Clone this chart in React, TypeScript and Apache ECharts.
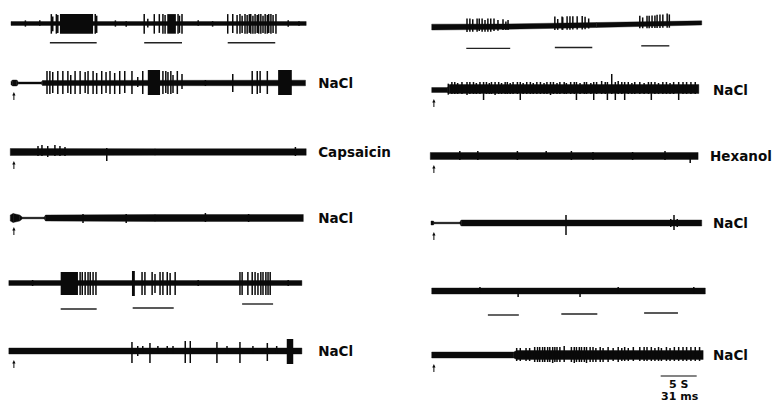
import React, { useEffect, useRef } from "react";
import * as echarts from "echarts";

// Time axis in seconds (scale bar: 5 s). Amplitude axis in arbitrary units.
const LEFT_MAX_S = 41;
const RIGHT_MAX_S = 37.5;
const ARROW_T = 0.4;

// ---------- Left column ----------
// base: [t, centre offset, half-thickness]
const L1_BASE = [[0, 0, 2.5], [41, 0, 2.5]];
// spikes: [t, up, down]
const L1_SPIKES = [
  [2.0, 4, 4], [4.0, 4, 3], [5.6, 12, 13], [5.8, 9, 10], [6.3, 12, 13], [6.5, 11, 12], [11.7, 12, 13], [11.9, 10, 12],
  [14.5, 4, 4], [16.0, 3, 4],
  [18.5, 12, 13], [19.0, 6, 5], [19.9, 12, 13], [20.6, 12, 12], [21.1, 12, 13], [21.4, 11, 13], [23.2, 12, 13], [23.4, 10, 12], [23.75, 12, 13],
  [26.0, 4, 3], [28.0, 3, 4],
  [30.1, 12, 13], [30.8, 12, 12], [31.4, 11, 13], [31.8, 12, 13], [32.1, 10, 12], [32.5, 12, 13], [32.8, 11, 13], [33.1, 12, 12],
  [33.3, 12, 13], [33.6, 10, 13], [33.9, 12, 13], [34.2, 11, 12], [34.4, 12, 13], [34.7, 12, 13], [35.0, 10, 12], [35.3, 12, 13],
  [35.6, 11, 13], [35.8, 12, 12], [36.1, 12, 13], [36.4, 11, 12], [36.8, 12, 13],
  [38.5, 4, 4], [40.0, 3, 3],
];
// blocks: [t0, t1, up, down]
const L1_BLOCKS = [[6.8, 11.4, 12, 13], [21.7, 22.9, 12, 13]];
// stimulus bars: [t0, t1, y]
const L1_STIM = [[5.4, 11.9, -24.5], [18.5, 23.75, -24.5], [30.1, 36.7, -24.5]];

const L2_BASE = [[0, 0, 1.5], [0.2, 0, 3], [0.8, 0, 3], [1.0, 0, 1], [4.2, 0, 1], [4.4, 0, 2.5], [40.9, 0, 2.8]];
const L2_SPIKES = [
  [5.0, 12, 11], [5.4, 12, 11], [5.8, 11, 10], [6.5, 12, 11], [7.2, 12, 11], [7.9, 12, 10], [8.3, 8, 11], [8.9, 12, 11],
  [9.6, 12, 11], [10.3, 11, 10], [10.7, 12, 11], [11.4, 12, 11], [11.9, 10, 11], [12.6, 12, 11], [13.2, 11, 10], [13.75, 12, 11],
  [14.4, 10, 11], [15.1, 12, 11], [15.8, 12, 10], [16.8, 12, 11], [17.6, 6, 4], [18.3, 12, 11],
  [21.1, 12, 11], [21.5, 12, 10], [21.8, 11, 11], [22.2, 12, 11], [22.5, 8, 10], [23.1, 12, 11], [23.75, 9, 6],
  [27.0, 3, 3], [30.8, 9, 9], [33.5, 12, 11], [34.2, 12, 11], [34.6, 12, 10], [35.6, 12, 11],
];
const L2_BLOCKS = [[19.0, 20.7, 13, 12], [37.1, 39.0, 13, 12]];

const L3_BASE = [[-0.1, 0, 3.5], [20, 0, 3.3], [41, 0, 3.3]];
const L3_SPIKES = [[3.75, 6, 4], [4.3, 7, 4], [5.1, 6, 5], [6.1, 7, 4], [6.8, 6, 4], [7.5, 5, 4], [13.3, 4, 9], [39.5, 5, 4]];

const L4_BASE = [[-0.1, 0, 3], [0.3, 0, 4.5], [1.2, 0, 3], [1.6, 0, 0.8], [4.6, 0, 0.8], [4.8, 0, 3], [20, 0, 3.5], [40.6, 0, 3.5]];
const L4_SPIKES = [[10, 4, 5], [16, 4, 5], [27, 5, 4], [33, 4, 4]];

const L5_BASE = [[-0.3, 0, 2.5], [40.4, 0, 2.5]];
const L5_SPIKES = [
  [3.0, 3, 3], [9.6, 11, 12], [9.9, 11, 12], [10.3, 11, 12], [10.7, 11, 12], [11.0, 11, 12], [11.4, 11, 12], [11.8, 11, 12],
  [18.2, 11, 12], [18.6, 11, 12], [19.6, 11, 12], [20.0, 9, 10], [20.7, 11, 12], [21.1, 11, 12], [21.7, 11, 12], [22.1, 10, 12], [22.8, 11, 12],
  [26.0, 3, 3], [31.8, 11, 12], [32.1, 11, 12], [32.9, 11, 12], [33.5, 11, 12], [33.9, 11, 12], [34.3, 10, 12], [34.7, 11, 12],
  [35.0, 11, 12], [35.4, 11, 12], [35.7, 11, 12], [36.0, 11, 12], [38.5, 3, 3],
];
const L5_BLOCKS = [[6.9, 9.3, 11, 12], [16.8, 17.2, 12, 13]];
const L5_STIM = [[6.9, 11.9, -26], [16.9, 22.6, -25], [32.1, 36.4, -21]];

const L6_BASE = [[-0.3, 0, 3], [40.4, 0, 3]];
const L6_SPIKES = [
  [16.8, 9, 12], [17.6, 5, 5], [18.3, 5, 3], [19.3, 8, 12], [20.4, 5, 3], [21.7, 5, 3], [22.5, 5, 3],
  [24.2, 10, 12], [24.9, 10, 12], [28.6, 9, 12], [30.0, 5, 3], [31.8, 9, 12], [33.6, 5, 3], [35.6, 8, 10], [36.9, 5, 3],
];
const L6_BLOCKS = [[38.3, 39.2, 12, 13]];

// ---------- Right column ----------
const R1_BASE = [[0.1, -2.5, 3.5], [10, -2, 3.2], [23, 0, 3], [37.6, 2.5, 2.5]];
const R1_SPIKES = [
  [5.0, 10, 6], [5.4, 10, 6], [5.8, 9, 6], [6.4, 10, 6], [6.7, 10, 5], [7.1, 10, 6], [7.5, 8, 6], [7.9, 10, 6],
  [8.3, 10, 6], [8.75, 10, 5], [9.3, 8, 5], [10.0, 9, 4], [10.4, 6, 4], [10.7, 8, 4],
  [17.2, 11, 5], [17.6, 8, 5], [18.2, 11, 5], [18.3, 10, 5], [18.9, 11, 5], [19.3, 11, 5], [19.7, 11, 5], [20.3, 11, 5],
  [21.0, 11, 5], [21.4, 10, 5], [21.9, 8, 4],
  [29.0, 10, 5], [29.4, 8, 5], [30.0, 10, 5], [30.3, 10, 5], [30.7, 10, 5], [31.1, 10, 5], [31.4, 11, 5], [31.8, 11, 5],
  [32.2, 11, 5], [32.8, 12, 5], [33.1, 11, 5],
];
const R1_STIM = [[4.9, 11.0, -28], [17.2, 22.4, -27], [29.2, 33.1, -25]];

const R2_BASE = [[0.1, 0, 2.5], [2.3, 0, 2.5], [2.6, 1, 4.5], [37.2, 1, 4.5]];
const R2_SPIKES = [
  [2.4, 6, 5], [2.9, 7, 5], [3.3, 7, 5], [3.7, 6, 5], [4.3, 7, 5], [5.0, 7, 6], [5.4, 7, 5], [5.9, 7, 5], [6.3, 6, 5],
  [6.8, 7, 5], [7.3, 7, 11], [7.7, 7, 5], [8.1, 6, 5], [8.4, 7, 5], [8.9, 7, 6], [9.4, 7, 5], [9.8, 6, 5], [10.3, 7, 5],
  [10.6, 7, 5], [11.0, 6, 5], [11.4, 7, 5], [12.0, 7, 5], [12.4, 7, 11], [12.8, 6, 5], [13.3, 7, 5], [13.8, 7, 5],
  [14.2, 6, 5], [14.7, 7, 5], [15.2, 7, 5], [15.7, 6, 5], [16.1, 7, 5], [16.6, 7, 6], [17.0, 7, 5], [17.5, 6, 5],
  [17.9, 7, 5], [18.5, 7, 5], [18.8, 6, 5], [19.4, 7, 5], [19.9, 7, 5], [20.2, 7, 11], [20.7, 6, 5], [21.3, 7, 5],
  [21.6, 7, 5], [22.2, 6, 5], [22.6, 7, 11], [23.0, 7, 5], [23.7, 8, 5], [24.2, 7, 5], [24.5, 7, 11], [25.1, 15, 5],
  [25.6, 7, 11], [26.0, 8, 5], [26.5, 7, 5], [26.9, 7, 11], [27.4, 7, 5], [27.9, 6, 5], [28.3, 7, 5], [29.0, 7, 5],
  [29.6, 6, 5], [30.2, 7, 5], [30.6, 7, 11], [31.1, 7, 5], [31.6, 6, 5], [32.2, 7, 5], [32.7, 7, 5], [33.2, 6, 5],
  [33.7, 7, 5], [34.4, 7, 11], [35.0, 7, 5], [35.5, 7, 5], [36.1, 7, 5], [36.7, 7, 5],
];

const R3_BASE = [[-0.1, 0, 3.5], [37.1, 0, 3.5]];
const R3_SPIKES = [[4.0, 5, 4], [6.5, 5, 4], [12, 5, 4], [16, 5, 3], [19.5, 5, 4], [22.5, 4, 4], [28, 4, 4], [32.5, 5, 4], [36.0, 3, 7]];

const R4_BASE = [[0, 0, 2], [0.3, 0, 2], [0.5, 0, 0.8], [4.0, 0, 0.8], [4.2, 0, 3], [37.6, 0, 3]];
const R4_SPIKES = [[18.75, 8, 12], [33.3, 4, 4], [33.75, 8, 7], [34.2, 4, 4]];

const R5_BASE = [[0.1, 0, 3], [38.1, 0, 3]];
const R5_SPIKES = [[6.8, 4, 3], [12.1, 3, 6], [20.7, 3, 6], [26, 4, 3], [36.5, 4, 3]];
const R5_STIM = [[7.9, 12.2, -24], [18.1, 23.1, -23], [29.6, 34.3, -22]];

const R6_BASE = [[0.1, 0, 3], [11.5, 0, 3], [11.9, 0, 4.5], [37.8, 0, 4.5]];
const R6_SPIKES = [
  [11.9, 7, 6], [12.4, 7, 6], [13.2, 7, 6], [13.7, 7, 6], [14.4, 8, 7], [14.8, 8, 7], [15.1, 8, 7], [15.5, 8, 7],
  [15.8, 8, 7], [16.2, 8, 7], [16.5, 8, 7], [16.9, 8, 8], [17.2, 8, 7], [17.5, 8, 7], [17.9, 8, 7], [18.5, 9, 7],
  [19.5, 8, 7], [19.9, 8, 8], [20.2, 8, 7], [20.6, 8, 7], [20.9, 8, 7], [21.3, 8, 7], [21.6, 8, 8], [22.1, 8, 7],
  [22.5, 8, 7], [22.9, 7, 7], [23.5, 8, 7], [23.9, 7, 7], [24.6, 8, 7], [25.3, 7, 6], [26.0, 8, 7], [26.5, 7, 6],
  [26.9, 8, 6], [27.4, 7, 6], [28.1, 8, 6], [29.0, 8, 6], [29.6, 8, 6], [30.0, 8, 6], [30.6, 8, 6], [31.1, 7, 6],
  [31.6, 8, 6], [32.0, 7, 6], [32.7, 8, 6], [33.2, 7, 6], [33.8, 8, 6], [34.4, 8, 6], [35.0, 8, 6], [35.5, 8, 6],
  [36.1, 8, 6], [36.7, 8, 6], [37.3, 8, 6],
];
const SCALE_BAR = [[31.9, 36.9]];
const SCALE_TEXT = ["5 S", "31 ms"];

const LABELS_LEFT = ["", "NaCl", "Capsaicin", "NaCl", "", "NaCl"];
const LABELS_RIGHT = ["", "NaCl", "Hexanol", "NaCl", "", "NaCl"];

// ---------- layout ----------
const LEFT_X = 11;
const RIGHT_X = 431;
const PX_PER_S = 7.2;
const LEFT_Y = [17, 83, 152, 218, 283, 351];
const RIGHT_Y = [20, 90, 156, 223, 291, 355];

type Trace = {
  col: number; y: number; base: number[][]; spikes: number[][]; blocks: number[][]; stim: number[][];
  arrow: boolean; label: string; scale?: boolean;
};

const TRACES: Trace[] = [
  { col: 0, y: LEFT_Y[0], base: L1_BASE, spikes: L1_SPIKES, blocks: L1_BLOCKS, stim: L1_STIM, arrow: false, label: LABELS_LEFT[0] },
  { col: 0, y: LEFT_Y[1], base: L2_BASE, spikes: L2_SPIKES, blocks: L2_BLOCKS, stim: [], arrow: true, label: LABELS_LEFT[1] },
  { col: 0, y: LEFT_Y[2], base: L3_BASE, spikes: L3_SPIKES, blocks: [], stim: [], arrow: true, label: LABELS_LEFT[2] },
  { col: 0, y: LEFT_Y[3], base: L4_BASE, spikes: L4_SPIKES, blocks: [], stim: [], arrow: true, label: LABELS_LEFT[3] },
  { col: 0, y: LEFT_Y[4], base: L5_BASE, spikes: L5_SPIKES, blocks: L5_BLOCKS, stim: L5_STIM, arrow: false, label: LABELS_LEFT[4] },
  { col: 0, y: LEFT_Y[5], base: L6_BASE, spikes: L6_SPIKES, blocks: L6_BLOCKS, stim: [], arrow: true, label: LABELS_LEFT[5] },
  { col: 1, y: RIGHT_Y[0], base: R1_BASE, spikes: R1_SPIKES, blocks: [], stim: R1_STIM, arrow: false, label: LABELS_RIGHT[0] },
  { col: 1, y: RIGHT_Y[1], base: R2_BASE, spikes: R2_SPIKES, blocks: [], stim: [], arrow: true, label: LABELS_RIGHT[1] },
  { col: 1, y: RIGHT_Y[2], base: R3_BASE, spikes: R3_SPIKES, blocks: [], stim: [], arrow: true, label: LABELS_RIGHT[2] },
  { col: 1, y: RIGHT_Y[3], base: R4_BASE, spikes: R4_SPIKES, blocks: [], stim: [], arrow: true, label: LABELS_RIGHT[3] },
  { col: 1, y: RIGHT_Y[4], base: R5_BASE, spikes: R5_SPIKES, blocks: [], stim: R5_STIM, arrow: false, label: LABELS_RIGHT[4] },
  { col: 1, y: RIGHT_Y[5], base: R6_BASE, spikes: R6_SPIKES, blocks: [], stim: [], arrow: true, label: LABELS_RIGHT[5], scale: true },
];

const INK = "#0a0a0a";

function baseAt(base: number[][], t: number) {
  if (t <= base[0][0]) return base[0][1];
  for (let i = 0; i < base.length - 1; i++) {
    const a = base[i], b = base[i + 1];
    if (t <= b[0]) {
      const f = (t - a[0]) / (b[0] - a[0] || 1);
      return a[1] + (b[1] - a[1]) * f;
    }
  }
  return base[base.length - 1][1];
}

function buildOption() {
  const grid: any[] = [];
  const xAxis: any[] = [];
  const yAxis: any[] = [];
  const series: any[] = [];
  const graphic: any[] = [];

  TRACES.forEach((tr, i) => {
    const maxS = tr.col ? RIGHT_MAX_S : LEFT_MAX_S;
    grid.push({ left: tr.col ? RIGHT_X : LEFT_X, width: maxS * PX_PER_S, top: tr.y - 30, height: 60 });
    xAxis.push({ gridIndex: i, type: "value", min: 0, max: maxS, show: false });
    yAxis.push({ gridIndex: i, type: "value", min: -30, max: 30, show: false });
    const common = { type: "custom", xAxisIndex: i, yAxisIndex: i, clip: false, silent: true };
    const base = tr.base;

    series.push({
      ...common,
      data: base,
      renderItem: (params: any, api: any) => {
        const k = params.dataIndex;
        if (k >= base.length - 1) return null;
        const a = base[k], b = base[k + 1];
        const p1 = api.coord([a[0], a[1] + a[2]]);
        const p2 = api.coord([b[0], b[1] + b[2]]);
        const p3 = api.coord([b[0], b[1] - b[2]]);
        const p4 = api.coord([a[0], a[1] - a[2]]);
        return { type: "polygon", shape: { points: [p1, p2, p3, p4] }, style: { fill: INK, stroke: INK, lineWidth: 0.4 } };
      },
    });

    if (tr.blocks.length) {
      series.push({
        ...common,
        data: tr.blocks,
        renderItem: (_p: any, api: any) => {
          const t0 = api.value(0), t1 = api.value(1), up = api.value(2), dn = api.value(3);
          const b = baseAt(base, t0);
          const a = api.coord([t0, b + up]);
          const c = api.coord([t1, b - dn]);
          return { type: "rect", shape: { x: a[0], y: a[1], width: c[0] - a[0], height: c[1] - a[1] }, style: { fill: INK } };
        },
      });
    }

    series.push({
      ...common,
      data: tr.spikes,
      renderItem: (_p: any, api: any) => {
        const t = api.value(0), up = api.value(1), dn = api.value(2);
        const b = baseAt(base, t);
        const a = api.coord([t, b + up]);
        const c = api.coord([t, b - dn]);
        return { type: "line", shape: { x1: a[0], y1: a[1], x2: c[0], y2: c[1] }, style: { stroke: INK, lineWidth: 1.5 } };
      },
    });

    if (tr.stim.length) {
      series.push({
        ...common,
        data: tr.stim,
        renderItem: (_p: any, api: any) => {
          const a = api.coord([api.value(0), api.value(2)]);
          const c = api.coord([api.value(1), api.value(2)]);
          return { type: "line", shape: { x1: a[0], y1: a[1], x2: c[0], y2: c[1] }, style: { stroke: "#222", lineWidth: 1.4 } };
        },
      });
    }

    if (tr.arrow) {
      series.push({
        ...common,
        data: [[ARROW_T, -9, -17]],
        renderItem: (_p: any, api: any) => {
          const top = api.coord([api.value(0), api.value(1)]);
          const bot = api.coord([api.value(0), api.value(2)]);
          return {
            type: "group",
            children: [
              { type: "line", shape: { x1: top[0], y1: top[1] + 2, x2: bot[0], y2: bot[1] }, style: { stroke: INK, lineWidth: 1 } },
              { type: "polygon", shape: { points: [[top[0], top[1]], [top[0] - 1.6, top[1] + 3.5], [top[0] + 1.6, top[1] + 3.5]] }, style: { fill: INK } },
            ],
          };
        },
      });
    }

    if (tr.scale) {
      series.push({
        ...common,
        data: SCALE_BAR,
        renderItem: (_p: any, api: any) => {
          const a = api.coord([api.value(0), -21]);
          const c = api.coord([api.value(1), -21]);
          const mid = (a[0] + c[0]) / 2;
          return {
            type: "group",
            children: [
              { type: "line", shape: { x1: a[0], y1: a[1], x2: c[0], y2: c[1] }, style: { stroke: INK, lineWidth: 1.2 } },
              { type: "text", x: mid, y: a[1] + 8, style: { text: SCALE_TEXT[0], fill: INK, font: 'bold 11px "DejaVu Sans"', align: "center", verticalAlign: "middle", textAlign: "center", textVerticalAlign: "middle" } },
              { type: "text", x: mid + 1, y: a[1] + 20, style: { text: SCALE_TEXT[1], fill: INK, font: 'bold 11px "DejaVu Sans"', align: "center", verticalAlign: "middle", textAlign: "center", textVerticalAlign: "middle" } },
            ],
          };
        },
      });
    }

    if (tr.label) {
      const lx = (tr.col ? RIGHT_X : LEFT_X) + maxS * PX_PER_S + 12;
      graphic.push({
        type: "text",
        x: lx - (tr.label === "Hexanol" ? 3 : 0),
        y: tr.y,
        silent: true,
        style: { text: tr.label, fill: INK, font: 'bold 13.5px "DejaVu Sans"', align: "left", verticalAlign: "middle", textAlign: "left", textVerticalAlign: "middle" },
      });
    }
  });

  return { animation: false, backgroundColor: "#ffffff", grid, xAxis, yAxis, series, graphic };
}

export default function App() {
  const ref = useRef<HTMLDivElement>(null);
  useEffect(() => {
    if (!ref.current) return;
    const chart = echarts.init(ref.current, undefined, { renderer: "svg" });
    chart.setOption(buildOption() as any);
    return () => chart.dispose();
  }, []);
  return <div ref={ref} style={{ position: "fixed", left: 0, top: 0, width: 773, height: 404, background: "#fff" }} />;
}
